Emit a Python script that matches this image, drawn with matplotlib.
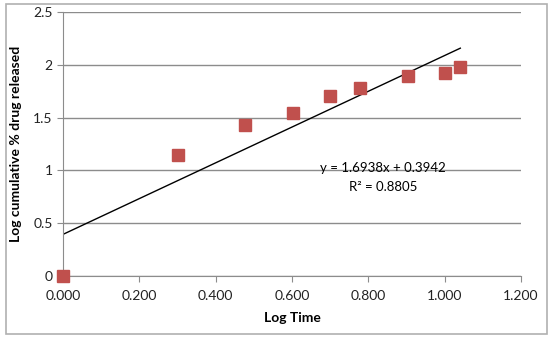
import numpy as np
import matplotlib.pyplot as plt
from matplotlib.patches import Rectangle
from matplotlib.ticker import FormatStrFormatter

plt.rcParams['font.family'] = ['Lato', 'DejaVu Sans']

log_time = [0.000, 0.301, 0.477, 0.602, 0.699, 0.778, 0.903, 1.000, 1.041]
log_release = [0.00, 1.15, 1.43, 1.54, 1.70, 1.78, 1.89, 1.92, 1.98]
slope, intercept = 1.6938, 0.3942

fig = plt.figure(figsize=(5.51, 3.39), dpi=100)
ax = fig.add_axes([63/551, 63/339, 458/551, 264/339])

# outer chart border
fig.patches.append(Rectangle((6/551, 5/339), 541/551, 330/339, transform=fig.transFigure,
                             fill=False, edgecolor='#b0b0b0', linewidth=1.2))

xl = np.array([0, max(log_time)])
ax.plot(xl, slope*xl + intercept, color='black', lw=1, zorder=2)
ax.plot(log_time, log_release, 's', color='#C0504D', markersize=8.5, zorder=3, clip_on=False)

ax.set_xlim(0, 1.2)
ax.set_ylim(0, 2.5)
ax.set_xticks(np.arange(0, 1.21, 0.2))
ax.set_yticks([0, 0.5, 1, 1.5, 2, 2.5])
ax.set_yticklabels(['0', '0.5', '1', '1.5', '2', '2.5'])
ax.xaxis.set_major_formatter(FormatStrFormatter('%.3f'))
ax.grid(axis='y', color='#8c8c8c', lw=1)
ax.set_axisbelow(True)
for s in ['top', 'right']:
    ax.spines[s].set_visible(False)
for s in ['left', 'bottom']:
    ax.spines[s].set_color('#8c8c8c')
ax.tick_params(colors='#8c8c8c', labelcolor='#222222', labelsize=10, length=4)
ax.tick_params(axis='x', pad=6)

ax.set_xlabel('Log Time', fontweight='bold', fontsize=10, labelpad=7)
ax.set_ylabel('Log cumulative % drug released', fontweight='bold', fontsize=10, labelpad=8)

ax.text(0.838, 1.02, 'y = %.4fx + %.4f' % (slope, intercept), ha='center', va='center', fontsize=9.5)
ax.text(0.838, 0.84, 'R² = 0.8805', ha='center', va='center', fontsize=9.5)

fig.savefig('out.png', dpi=100)
